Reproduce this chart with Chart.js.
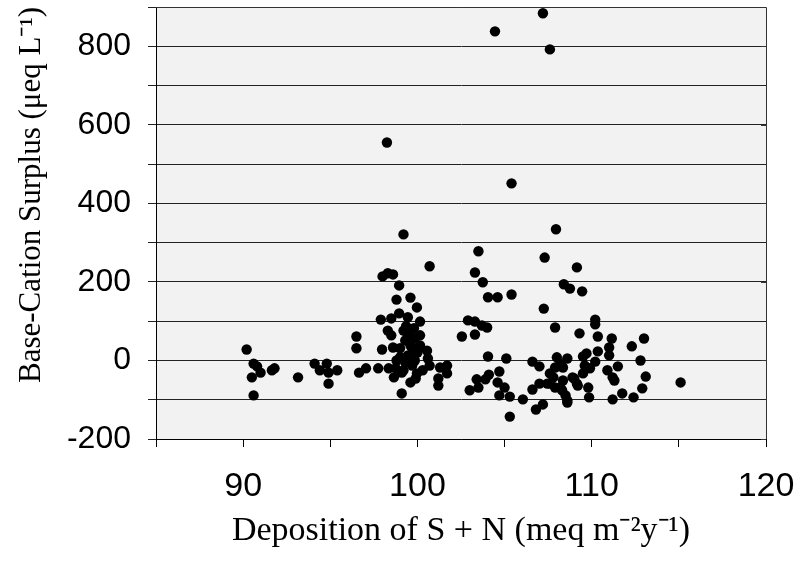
<!DOCTYPE html>
<html lang="en">

<head>
  <meta charset="UTF-8">
  <title>Base-Cation Surplus vs Deposition</title>

  <!-- Chart.js for rendering the scatter plot -->
  <script src="https://cdn.jsdelivr.net/npm/chart.js"></script>

  <style>
    body {
      margin: 0;
      background: #fff;
    }

    canvas {
      display: block;
    }
  </style>
</head>

<body>
  <canvas id="scatter" width="798" height="563"></canvas>

  <script>
    // Deposition of S + N (meq m-2 y-1), one entry per site
    const deposition = [
      90.2, 90.6, 90.8, 91.0, 90.5, 90.6, 91.65, 91.8, 93.15, 94.1, 94.4, 94.8, 94.9, 94.9, 95.4,
      96.5, 96.5, 96.65, 97.05, 97.75, 97.9, 97.97, 98.0, 98.3, 98.6, 98.25, 98.95, 98.8, 99.6, 99.97,
      98.5, 98.95, 99.45, 100.15, 98.3, 98.5, 99.4, 100.15, 98.6, 100.55, 98.35, 98.65, 99.1, 99.6, 99.1,
      101.2, 101.2, 101.7, 101.7, 101.3, 100.7, 100.6, 100.3, 99.97, 98.8, 99.0, 99.2, 100.7,
      99.2, 99.3, 99.6, 99.75, 99.45, 99.85, 99.3, 99.7, 100.0, 100.15, 99.85, 99.6, 99.0, 99.2, 98.75,
      99.9, 99.35, 99.8,
      102.55, 102.9, 103.0, 103.5, 103.3, 103.75, 104.05, 104.6, 105.4, 103.3, 103.7, 104.0, 103.3,
      104.05, 105.1, 106.6, 107.0, 104.7, 104.1, 103.4, 103.9, 103.5, 104.6, 105.0, 104.7, 105.3, 106.05,
      106.6, 106.8, 107.2, 105.3, 104.45, 107.2, 107.6, 105.4, 107.3, 107.95, 107.25, 107.9,
      109.15, 108.4, 108.75, 109.45, 110.2, 110.2, 109.3, 110.35, 111.15, 111.0, 111.0, 112.3, 113.0,
      110.35, 112.8, 109.5, 109.7, 110.2, 109.6, 109.9, 109.5, 110.9, 111.5, 111.2, 111.3, 113.1, 112.9,
      112.4, 111.75, 111.2, 109.85, 109.8, 109.2, 108.6, 108.5, 108.6, 108.0, 108.2, 107.8, 108.35, 108.9,
      107.9, 108.3, 115.1,
      107.9, 107.6, 107.0, 109.0, 109.15, 108.2, 108.6, 107.6, 108.35, 107.45
    ];

    // Base-cation surplus (ueq L-1), same order as deposition
    const surplus = [
      28, -8, -15, -31, -43, -89, -25, -20, -43, -8, -25, -8, -31, -59, -25,
      61, 31, -31, -20, -20, 104, 28, 214, 222, 219, 555, 191, 155, 160, 135,
      107, 120, 110, 99, 76, 64, 71, 64, 33, 25, -20, -43, -31, -56, -84,
      -46, -64, -13, -33, -18, -13, 5, -25, -33, 0, 8, 321, 240,
      76, 51, 38, 25, 13, 0, -5, -13, 20, 38, 56, 64, 31, -25, -20,
      -46, 87, 82,
      61, 102, -76, 278, 224, 199, 161, 161, 168, 99, 89, 84, 66,
      10, 5, -3, -15, -28, -36, -48, -48, -69, -56, -69, -89, -92, -99,
      -74, -125, -112, -143, 838, 884, 792, 451, 262, 334, 132, 84,
      237, 194, 183, 176, 104, 92, 69, 61, 56, 33, 13, 36, 56,
      23, 0, 10, 18, -3, -13, -20, -33, -25, -15, -43, -51, -41, -71,
      -94, -84, -99, -94, -69, -64, -107, -89, 5, 8, -8, -43, -51, -43,
      -69, -76, -56,
      -18, -59, -59, -46, -59, -69, -102, -33, -18, -59
    ];

    // Axis limits and labelled ticks
    const xMin = 85, xMax = 120, xStep = 5;
    const xLabels = [90, 100, 110, 120];
    const yMin = -200, yMax = 900, yStep = 100;
    const yLabels = [-200, 0, 200, 400, 600, 800];

    const points = deposition.map((x, i) => ({ x: x, y: surplus[i] }));

    // fixed box sizes so the plot area lands where the original one is
    function fixBox(scale, w, h) {
      if (w) scale.width = w;
      if (h) scale.height = h;
      scale.paddingLeft = 0;
      scale.paddingRight = 0;
      scale.paddingTop = 0;
      scale.paddingBottom = 0;
    }

    // Grey plot area, top/right frame and the small inner ticks on the right
    const plotFrame = {
      id: 'plotFrame',
      beforeDraw(chart) {
        const { ctx, chartArea: a } = chart;
        ctx.save();
        ctx.fillStyle = '#f2f2f2';
        ctx.fillRect(a.left, a.top, a.right - a.left, a.bottom - a.top);
        ctx.restore();
      },
      afterDraw(chart) {
        const { ctx, chartArea: a } = chart;
        const yScale = chart.scales.y;
        ctx.save();
        ctx.strokeStyle = '#333';
        ctx.lineWidth = 1;
        ctx.beginPath();
        ctx.moveTo(a.left, a.top + 0.5);
        ctx.lineTo(a.right + 0.5, a.top + 0.5);
        ctx.lineTo(a.right + 0.5, a.bottom);
        yLabels.forEach(v => {
          const py = Math.round(yScale.getPixelForValue(v)) + 0.5;
          ctx.moveTo(a.right - 5, py);
          ctx.lineTo(a.right, py);
        });
        ctx.stroke();
        ctx.restore();
      }
    };

    new Chart(document.getElementById('scatter'), {
      type: 'scatter',
      data: {
        datasets: [{
          data: points,
          backgroundColor: '#000',
          borderColor: '#000',
          borderWidth: 0,
          pointRadius: 5.2,
          pointHoverRadius: 5.2
        }]
      },
      options: {
        responsive: false,
        animation: false,
        layout: { padding: { left: 0, top: 7, right: 32, bottom: 0 } },
        plugins: {
          legend: { display: false },
          tooltip: { enabled: false }
        },
        scales: {
          x: {
            type: 'linear',
            min: xMin,
            max: xMax,
            afterFit(scale) { fixBox(scale, 0, 124); },
            ticks: {
              stepSize: xStep,
              autoSkip: false,
              maxRotation: 0,
              padding: 19,
              color: '#000',
              font: { family: 'Liberation Sans', size: 34 },
              callback: v => xLabels.includes(v) ? String(v) : ''
            },
            grid: {
              drawOnChartArea: false,
              drawTicks: true,
              tickLength: 8,
              color: '#000'
            },
            border: { display: true, color: '#000', width: 1 },
            title: {
              display: true,
              text: 'Deposition of S + N (meq m⁻²y⁻¹)',
              color: '#000',
              font: { family: 'Liberation Serif', size: 34 },
              padding: { top: 0, bottom: 12 }
            }
          },
          y: {
            type: 'linear',
            min: yMin,
            max: yMax,
            afterFit(scale) { fixBox(scale, 156, 0); },
            ticks: {
              stepSize: yStep,
              autoSkip: false,
              padding: 17,
              color: '#000',
              font: { family: 'Liberation Sans', size: 32 },
              callback: v => yLabels.includes(v) ? String(v) : ''
            },
            grid: {
              color: '#222',
              lineWidth: 1,
              drawTicks: true,
              tickLength: 8
            },
            border: { display: true, color: '#000', width: 1 },
            title: {
              display: true,
              text: 'Base-Cation Surplus (μeq L⁻¹)',
              align: 'end',
              color: '#000',
              font: { family: 'Liberation Serif', size: 31 },
              padding: { top: 13, bottom: 0 }
            }
          }
        }
      },
      plugins: [plotFrame]
    });
  </script>

</body>

</html>
